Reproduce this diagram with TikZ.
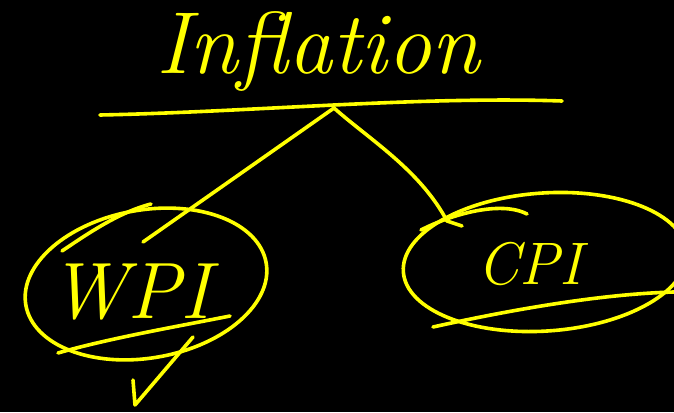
\documentclass[tikz,border=0pt]{standalone}
\usepackage{fontspec}
\usetikzlibrary{shapes.geometric}
\definecolor{ink}{RGB}{255,255,0}
\tikzset{
  pen/.style={draw=ink, line width=3.6pt, line cap=round, line join=round},
  handtext/.style={text=ink, font=\itshape, inner sep=0pt},
  loop/.style={ellipse, draw=ink, line width=3.6pt, inner sep=0pt}
}
\begin{document}
\begin{tikzpicture}[x=1pt,y=-1pt]
\fill[black] (0,0) rectangle (674,412);
\useasboundingbox (0,0) rectangle (674,412);
% title
\node[handtext, font=\itshape\fontsize{88}{96}\selectfont] (title) at (318,52) {Inflation};
\coordinate (ulA) at (100,115);
\coordinate (ulB) at (562,101);
\coordinate (top) at (334,108);
\draw[pen] (ulA) .. controls (250,112) and (420,96) .. (ulB);
% ellipses
\node[loop, minimum width=244pt, minimum height=148pt, rotate=10] (wpiE) at (146,284) {};
\node[loop, minimum width=284pt, minimum height=138pt, rotate=4] (cpiE) at (545,262) {};
% labels
\node[handtext, font=\itshape\fontsize{80}{86}\selectfont] (wpi) at (130,292) {WPI};
\node[handtext, font=\itshape\fontsize{60}{66}\selectfont] (cpi) at (530,264) {CPI};
% branches
\coordinate (lend) at (143,242);
\coordinate (rend) at (447,221);
\draw[pen] (top) -- (lend);
\draw[pen] (top) .. controls (370,140) and (420,170) .. (rend) -- (462,226);
% extra strokes
\coordinate (s1a) at (62,251);
\coordinate (s1b) at (151,204);
\draw[pen] (s1a) .. controls (90,232) and (120,212) .. (s1b);
\coordinate (u1a) at (58,353);
\coordinate (u1b) at (230,316);
\draw[pen] (u1a) .. controls (110,338) and (180,326) .. (u1b);
\coordinate (c1) at (133,380);
\coordinate (c2) at (135,405);
\coordinate (c3) at (193,337);
\draw[pen] (c1) -- (c2) -- (c3);
\coordinate (s2a) at (421,230);
\coordinate (s2b) at (527,214);
\draw[pen] (s2a) .. controls (450,215) and (500,200) .. (s2b);
\coordinate (u2a) at (433,327);
\coordinate (u2b) at (674,292);
\draw[pen] (u2a) .. controls (510,310) and (600,294) .. (u2b);
\end{tikzpicture}
\end{document}
